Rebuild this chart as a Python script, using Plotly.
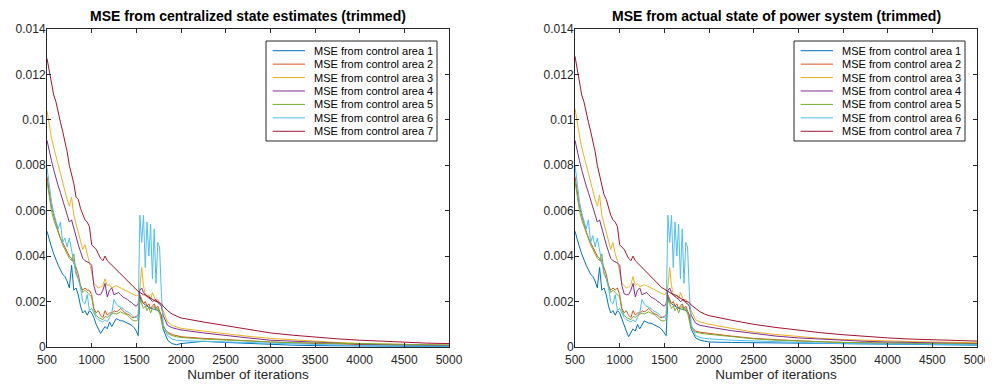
import plotly.graph_objects as go

# Iteration grid shared by all series
iterations = [500, 525, 550, 575, 600, 625, 650, 675, 700, 725, 750, 775, 800, 825, 850, 875, 900, 925, 950, 975,
              1000, 1025, 1050, 1075, 1100, 1125, 1150, 1175, 1200, 1225, 1250, 1275, 1300, 1325, 1350, 1375, 1400,
              1425, 1450, 1475, 1500,
              1520, 1540, 1560, 1580, 1600, 1620, 1640, 1660, 1680, 1700, 1720, 1740, 1760, 1780, 1800,
              1850, 1900, 1950, 2000,
              2250, 2500, 2750, 3000, 3250, 3500, 3750, 4000, 4250, 4500, 4750, 5000]

series_names = ["MSE from control area 1", "MSE from control area 2", "MSE from control area 3",
                "MSE from control area 4", "MSE from control area 5", "MSE from control area 6",
                "MSE from control area 7"]

# Values in units of 1e-3 (axis labels carry the real scale)
# ---- Left panel: MSE from centralized state estimates ----
left_area1 = [5.1, 4.7, 4.4, 4.1, 3.8, 3.6, 3.4, 3.2, 3.1, 2.9, 2.6, 3.6, 2.5, 2.6, 2.3, 1.8, 1.5, 1.6, 1.4, 1.6,
              1.5, 1.3, 1.0, 0.8, 0.6, 0.75, 0.9, 0.8, 1.1, 0.9, 1.1, 1.25, 1.2, 1.15, 1.15, 1.1, 1.05,
              1.0, 0.95, 0.85, 0.7,
              0.5, 2.2, 2.0, 1.9, 1.85, 1.8, 1.75, 1.7, 1.7, 1.65, 1.7, 1.6, 1.55, 1.4, 0.8,
              0.3, 0.15, 0.1, 0.15,
              0.25, 0.2, 0.15, 0.1, 0.08, 0.06, 0.05, 0.04, 0.03, 0.03, 0.02, 0.02]
left_area2 = [7.5, 6.8, 6.2, 5.8, 5.4, 5.1, 4.8, 4.6, 4.4, 4.2, 4.0, 3.9, 3.7, 3.5, 3.2, 2.7, 2.5, 2.6, 2.5, 2.5,
              2.3, 1.7, 1.5, 1.6, 1.4, 1.3, 1.6, 1.4, 1.5, 1.5, 1.6, 1.55, 1.6, 1.7, 1.6, 1.5, 1.45,
              1.4, 1.3, 1.3, 1.35,
              1.4, 2.3, 2.1, 1.9, 2.0, 1.8, 1.9, 1.7, 1.8, 1.9, 1.7, 1.8, 1.6, 1.4, 0.9,
              0.65, 0.55, 0.5, 0.45,
              0.38, 0.32, 0.27, 0.22, 0.18, 0.15, 0.13, 0.11, 0.1, 0.09, 0.08, 0.07]
left_area3 = [10.4, 9.7, 9.2, 8.8, 8.4, 8.0, 7.6, 7.2, 6.9, 6.5, 6.2, 6.6, 5.8, 5.4, 5.0, 4.6, 4.3, 4.5, 4.1, 3.8,
              3.3, 2.8, 2.7, 2.6, 2.65, 2.7, 3.0, 2.7, 2.75, 2.6, 2.65, 2.7, 2.65, 2.6, 2.55, 2.5, 2.45,
              2.4, 2.35, 2.3, 2.25,
              2.3, 2.6, 3.5, 2.7, 2.3, 2.2, 2.3, 2.1, 2.4, 2.2, 2.0, 2.1, 1.9, 1.8, 1.6,
              1.1, 0.95, 0.88, 0.82,
              0.7, 0.58, 0.47, 0.38, 0.31, 0.25, 0.2, 0.16, 0.13, 0.11, 0.09, 0.08]
left_area4 = [9.1, 8.6, 8.2, 7.8, 7.4, 7.1, 6.8, 6.5, 6.2, 5.9, 5.5, 5.6, 5.2, 4.8, 4.5, 4.2, 3.9, 3.8, 3.75, 3.7,
              3.6, 2.7, 2.35, 2.3, 2.3, 2.5, 2.8, 2.2, 2.5, 2.6, 2.3, 2.35, 2.4, 2.3, 2.2, 2.15, 2.1,
              2.0, 1.95, 1.85, 1.8,
              1.9, 2.5, 2.6, 2.4, 2.3, 2.2, 2.15, 2.1, 2.0, 2.05, 2.1, 1.95, 1.9, 1.8, 1.4,
              0.95, 0.85, 0.8, 0.75,
              0.62, 0.5, 0.4, 0.3, 0.25, 0.2, 0.16, 0.13, 0.1, 0.08, 0.07, 0.06]
left_area5 = [7.3, 6.6, 6.0, 5.6, 5.3, 5.0, 4.7, 4.5, 4.3, 4.1, 3.9, 3.8, 4.1, 3.3, 3.0, 2.6, 2.4, 2.5, 2.4, 2.3,
              2.2, 1.6, 1.4, 1.3, 1.25, 1.2, 1.35, 1.3, 1.4, 1.45, 1.5, 1.45, 1.5, 1.55, 1.5, 1.45, 1.4,
              1.3, 1.2, 1.15, 1.15,
              1.2, 2.1, 1.9, 1.7, 1.8, 1.6, 1.75, 1.5, 1.7, 1.8, 1.6, 1.7, 1.5, 1.2, 0.8,
              0.6, 0.5, 0.45, 0.42,
              0.35, 0.3, 0.26, 0.22, 0.19, 0.17, 0.15, 0.13, 0.12, 0.11, 0.1, 0.09]
left_area6 = [7.9, 7.0, 6.4, 5.9, 5.6, 5.2, 5.5, 4.6, 4.8, 4.4, 4.8, 4.2, 3.6, 3.2, 3.0, 2.6, 2.0, 1.9, 2.3, 1.6,
              1.7, 1.5, 1.3, 1.2, 1.15, 1.1, 1.2, 1.1, 1.3, 1.5, 2.1, 1.9, 1.8, 1.75, 1.7, 1.6, 1.55,
              1.5, 1.4, 1.3, 1.3,
              1.25, 5.8, 4.6, 5.8, 3.5, 5.5, 4.0, 5.4, 3.0, 5.2, 2.8, 4.6, 4.4, 2.4, 1.0,
              0.5, 0.35, 0.3, 0.28,
              0.25, 0.22, 0.18, 0.15, 0.12, 0.1, 0.08, 0.06, 0.05, 0.04, 0.03, 0.03]
left_area7 = [12.7, 12.1, 11.6, 11.1, 10.8, 10.3, 9.9, 9.5, 9.1, 8.6, 8.0, 7.6, 7.2, 6.6, 6.5, 6.1, 5.8, 5.6, 5.5, 5.3,
              4.5, 4.4, 4.3, 4.1, 3.9, 3.8, 4.0, 3.8, 3.7, 3.6, 3.5, 3.4, 3.3, 3.2, 3.1, 3.0, 2.9,
              2.8, 2.7, 2.6, 2.5,
              2.45, 2.4, 2.35, 2.3, 2.3, 2.25, 2.2, 2.15, 2.1, 2.05, 2.0, 2.0, 1.95, 1.9, 1.8,
              1.6, 1.45, 1.35, 1.28,
              1.1, 0.95, 0.78, 0.62, 0.52, 0.43, 0.36, 0.3, 0.25, 0.2, 0.17, 0.15]

# ---- Right panel: MSE from actual state of power system ----
right_area1 = [5.1, 4.7, 4.4, 4.1, 3.8, 3.6, 3.4, 3.2, 3.1, 2.9, 2.6, 3.5, 2.5, 2.6, 2.3, 1.8, 1.5, 1.6, 1.4, 1.6,
               1.5, 1.2, 0.9, 0.7, 0.45, 0.6, 0.8, 0.7, 1.0, 0.8, 1.0, 1.15, 1.1, 1.05, 1.05, 1.0, 0.95,
               0.9, 0.85, 0.75, 0.6,
               0.5, 2.2, 2.0, 1.9, 1.85, 1.8, 1.75, 1.7, 1.7, 1.65, 1.7, 1.6, 1.55, 1.4, 0.8,
               0.4, 0.3, 0.25, 0.22,
               0.2, 0.18, 0.18, 0.17, 0.16, 0.15, 0.14, 0.13, 0.12, 0.1, 0.09, 0.08]
right_area2 = [7.5, 6.8, 6.2, 5.8, 5.4, 5.1, 4.8, 4.6, 4.4, 4.2, 4.0, 3.9, 3.7, 3.5, 3.2, 2.7, 2.5, 2.6, 2.5, 2.6,
               2.3, 1.7, 1.5, 1.6, 1.4, 1.3, 1.6, 1.4, 1.5, 1.5, 1.6, 1.55, 1.6, 1.7, 1.6, 1.5, 1.45,
               1.4, 1.3, 1.3, 1.35,
               1.4, 2.3, 2.1, 1.9, 2.0, 1.8, 1.9, 1.7, 1.8, 1.9, 1.7, 1.8, 1.6, 1.4, 0.9,
               0.7, 0.65, 0.62, 0.6,
               0.48, 0.38, 0.32, 0.26, 0.23, 0.2, 0.18, 0.16, 0.15, 0.14, 0.13, 0.12]
right_area3 = [10.5, 9.8, 9.3, 8.8, 8.4, 8.0, 7.6, 7.2, 6.9, 6.5, 6.2, 6.7, 5.8, 5.4, 5.0, 4.6, 4.3, 4.6, 4.1, 3.8,
               3.3, 2.8, 2.7, 2.6, 2.65, 2.75, 3.1, 2.7, 2.8, 2.65, 2.7, 2.75, 2.7, 2.65, 2.6, 2.55, 2.5,
               2.45, 2.4, 2.35, 2.3,
               2.35, 2.7, 3.5, 2.7, 2.3, 2.2, 2.3, 2.1, 2.4, 2.2, 2.0, 2.1, 1.9, 1.8, 1.6,
               1.2, 1.1, 1.05, 1.0,
               0.82, 0.66, 0.55, 0.45, 0.38, 0.33, 0.29, 0.26, 0.24, 0.22, 0.2, 0.19]
right_area4 = [9.1, 8.6, 8.2, 7.8, 7.4, 7.1, 6.8, 6.5, 6.2, 5.9, 5.5, 5.6, 5.2, 4.8, 4.5, 4.2, 3.9, 3.8, 3.75, 3.7,
               3.6, 2.7, 2.35, 2.3, 2.3, 2.5, 2.8, 2.2, 2.5, 2.6, 2.3, 2.35, 2.4, 2.3, 2.2, 2.15, 2.1,
               2.0, 1.95, 1.85, 1.8,
               1.9, 2.5, 2.6, 2.4, 2.3, 2.2, 2.15, 2.1, 2.0, 2.05, 2.1, 1.95, 1.9, 1.8, 1.4,
               1.05, 0.95, 0.92, 0.88,
               0.72, 0.59, 0.48, 0.4, 0.34, 0.29, 0.25, 0.22, 0.2, 0.18, 0.16, 0.15]
right_area5 = [7.3, 6.6, 6.0, 5.6, 5.3, 5.0, 4.7, 4.5, 4.3, 4.1, 3.9, 3.8, 4.1, 3.3, 3.0, 2.6, 2.4, 2.5, 2.4, 2.3,
               2.2, 1.6, 1.4, 1.3, 1.25, 1.2, 1.35, 1.3, 1.4, 1.45, 1.5, 1.45, 1.5, 1.55, 1.5, 1.45, 1.4,
               1.3, 1.2, 1.15, 1.15,
               1.2, 2.1, 1.9, 1.7, 1.8, 1.6, 1.75, 1.5, 1.7, 1.8, 1.6, 1.7, 1.5, 1.2, 0.8,
               0.65, 0.6, 0.58, 0.56,
               0.45, 0.36, 0.3, 0.26, 0.23, 0.2, 0.18, 0.17, 0.16, 0.15, 0.14, 0.13]
right_area6 = [8.0, 7.1, 6.4, 5.9, 5.6, 5.2, 5.6, 4.6, 4.9, 4.4, 4.8, 4.2, 3.6, 3.2, 3.0, 2.6, 2.0, 1.9, 2.3, 1.6,
               1.7, 1.5, 1.3, 1.2, 1.15, 1.1, 1.2, 1.1, 1.3, 1.5, 2.1, 1.9, 1.8, 1.75, 1.7, 1.6, 1.55,
               1.5, 1.4, 1.3, 1.3,
               1.25, 5.8, 4.6, 5.8, 3.5, 5.5, 4.0, 5.4, 3.0, 5.2, 2.8, 4.6, 4.4, 2.4, 1.0,
               0.5, 0.42, 0.38, 0.36,
               0.3, 0.26, 0.22, 0.19, 0.17, 0.15, 0.14, 0.13, 0.12, 0.11, 0.1, 0.1]
right_area7 = [12.8, 12.2, 11.6, 11.1, 10.8, 10.3, 9.9, 9.5, 9.1, 8.6, 8.0, 7.6, 7.2, 6.7, 6.5, 6.1, 5.8, 5.6, 5.5, 5.3,
               4.5, 4.4, 4.3, 4.1, 3.9, 3.8, 4.0, 3.8, 3.7, 3.6, 3.5, 3.4, 3.3, 3.2, 3.1, 3.0, 2.9,
               2.8, 2.7, 2.6, 2.55,
               2.5, 2.45, 2.4, 2.35, 2.3, 2.3, 2.25, 2.2, 2.15, 2.1, 2.05, 2.0, 2.0, 1.95, 1.85,
               1.7, 1.55, 1.45, 1.38,
               1.18, 1.0, 0.86, 0.74, 0.63, 0.54, 0.46, 0.4, 0.35, 0.31, 0.28, 0.26]

left_series = [left_area1, left_area2, left_area3, left_area4, left_area5, left_area6, left_area7]
right_series = [right_area1, right_area2, right_area3, right_area4, right_area5, right_area6, right_area7]

titles = ["MSE from centralized state estimates (trimmed)", "MSE from actual state of power system (trimmed)"]
x_label = "Number of iterations"
x_ticks = [500, 1000, 1500, 2000, 2500, 3000, 3500, 4000, 4500, 5000]
y_tick_vals = [0, 2, 4, 6, 8, 10, 12, 14]
y_tick_text = ["0", "0.002", "0.004", "0.006", "0.008", "0.01", "0.012", "0.014"]

colors = ["#0072BD", "#D95319", "#EDB120", "#7E2F8E", "#77AC30", "#4DBEEE", "#A2142F"]

# The page body has an 8px margin, so the figure is sized and laid out in page-8 coordinates
OFF = 8
W, H = 993 - OFF, 385 - OFF
FONT = "Liberation Sans, Arial, Helvetica, sans-serif"
AX = "#262626"

# pixel geometry (figure coordinates)
ax_top, ax_bot = 29 - OFF, 347 - OFF
ax_lefts = [47 - OFF, 575 - OFF]
ax_w = 402
ax_h = ax_bot - ax_top

fig = go.Figure()
for p, (series, xa, ya) in enumerate([(left_series, "x", "y"), (right_series, "x2", "y2")]):
    for i, vals in enumerate(series):
        fig.add_trace(go.Scatter(x=iterations, y=vals, mode="lines", name=series_names[i],
                                 line=dict(color=colors[i], width=1), xaxis=xa, yaxis=ya,
                                 showlegend=False))

axis_common = dict(showline=True, mirror="ticks", linecolor=AX, linewidth=1, ticks="inside",
                   ticklen=4, tickcolor=AX, tickwidth=1, showgrid=False, zeroline=False,
                   automargin=False, tickfont=dict(family=FONT, size=12, color=AX))

y0 = (H - ax_bot) / H
y1 = (H - ax_top) / H
layout = dict(width=W, height=H, margin=dict(l=0, r=0, t=0, b=0, autoexpand=False),
              paper_bgcolor="white", plot_bgcolor="white", showlegend=False,
              font=dict(family=FONT, color=AX))
for k, left in enumerate(ax_lefts):
    suf = "" if k == 0 else "2"
    layout["xaxis" + suf] = dict(axis_common, domain=[left / W, (left + ax_w) / W], range=[500, 5000],
                                 tickvals=x_ticks, anchor="y" + suf, ticklabelstandoff=2,
                                 title=dict(text=x_label, font=dict(family=FONT, size=13.5, color=AX), standoff=3))
    layout["yaxis" + suf] = dict(axis_common, domain=[y0, y1], range=[0, 14], tickvals=y_tick_vals,
                                 ticktext=y_tick_text, anchor="x" + suf, ticklabelstandoff=-2)
fig.update_layout(**layout)

# titles
annotations = []
shapes = []
for k, left in enumerate(ax_lefts):
    annotations.append(dict(text="<b>" + titles[k] + "</b>", xref="paper", yref="paper",
                            x=(left + ax_w / 2) / W, y=(H - (16 - OFF)) / H, xanchor="center", yanchor="middle",
                            showarrow=False, font=dict(family=FONT, size=14, color="#000")))

# custom MATLAB-style legend box (offsets relative to each axes' top-left corner)
box_l, box_r, box_t, box_b = 219, 390, 12, 112
line_l, line_r, text_l = 225.7, 258, 265.3
row0, row_pitch = 21.7, 13.43
for k, left in enumerate(ax_lefts):
    xr = "x domain" if k == 0 else "x2 domain"
    yr = "y domain" if k == 0 else "y2 domain"
    shapes.append(dict(type="rect", xref=xr, yref=yr, x0=box_l / ax_w, x1=box_r / ax_w,
                       y0=1 - box_b / ax_h, y1=1 - box_t / ax_h, line=dict(color=AX, width=1),
                       fillcolor="white", layer="above"))
    for i, name in enumerate(series_names):
        yy = 1 - (row0 + i * row_pitch) / ax_h
        shapes.append(dict(type="line", xref=xr, yref=yr, x0=line_l / ax_w, x1=line_r / ax_w,
                           y0=yy, y1=yy, line=dict(color=colors[i], width=1), layer="above"))
        annotations.append(dict(text=name, xref=xr, yref=yr, x=text_l / ax_w, y=yy, xanchor="left",
                                yanchor="middle", showarrow=False,
                                font=dict(family=FONT, size=11, color="#000")))
fig.update_layout(annotations=annotations, shapes=shapes)

fig.write_html("out.html")
